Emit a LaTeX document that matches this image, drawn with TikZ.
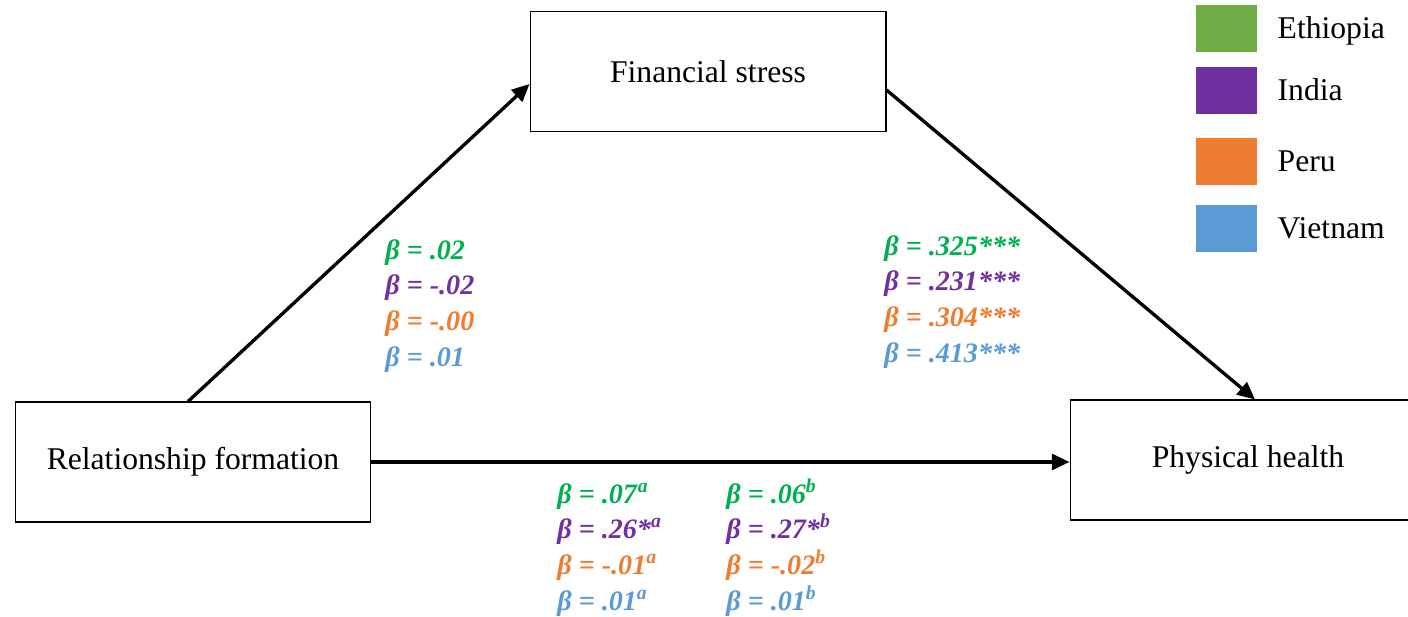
\documentclass[tikz,border=0pt]{standalone}
\usepackage{fontspec}
\setmainfont{Liberation Serif}
\usepackage{xcolor}
\usetikzlibrary{arrows.meta,positioning}
\definecolor{ethgreen}{RGB}{0, 176, 80}
\definecolor{legendgreen}{RGB}{112, 173, 71}
\definecolor{indpurple}{RGB}{112, 48, 160}
\definecolor{perorange}{RGB}{237, 125, 49}
\definecolor{vietblue}{RGB}{91, 155, 213}
\newcommand{\bet}[1]{\textit{\textbf{β = #1}}}
\newcommand{\sig}[1]{\smash{\textsuperscript{\textit{\textbf{#1}}}}}

\begin{document}
\begin{tikzpicture}[x=0.02cm, y=-0.02cm, >={Triangle[length=10pt,width=9pt]},
    varbox/.style={draw, line width=0.6pt, minimum width=7.12cm, minimum height=2.4cm,
        font=\fontsize{18}{22}\selectfont},
    medpath/.style={->, line width=1.9pt},
    coef/.style={anchor=north west, align=left, inner sep=0pt,
        font=\fontsize{16}{20.3}\selectfont},
    swatch/.style={minimum width=1.22cm, minimum height=0.94cm, inner sep=0pt},
    legtext/.style={anchor=base west, inner sep=0pt, font=\fontsize{18}{22}\selectfont}]
    \useasboundingbox (0, 0) rectangle (1408, 617);

    % Variables
    \node[varbox] (fin) at (708, 71.5) {Financial stress};
    \node[varbox] (rel) at (193, 462) {Relationship formation};
    \node[varbox] (phys) at (1248, 460) {Physical health};

    % Paths
    \draw[medpath] ([xshift=-0.1cm]rel.north) -- ([yshift=-0.25cm]fin.west);
    \draw[medpath] ([yshift=-0.37cm]fin.east) -- ([xshift=0.14cm]phys.north);
    \draw[medpath] (rel.east) -- (rel.east -| phys.west);

    % Coefficients, a path
    \node[coef] (apath) at (385, 239) {%
        \textcolor{ethgreen}{\bet{.02}}\\
        \textcolor{indpurple}{\bet{-.02}}\\
        \textcolor{perorange}{\bet{-.00}}\\
        \textcolor{vietblue}{\bet{.01}}};

    % Coefficients, b path
    \node[coef] (bpath) at (884, 235) {%
        \textcolor{ethgreen}{\bet{.325***}}\\
        \textcolor{indpurple}{\bet{.231***}}\\
        \textcolor{perorange}{\bet{.304***}}\\
        \textcolor{vietblue}{\bet{.413***}}};

    % Coefficients, direct paths
    \node[coef] (cpath) at (557, 483) {%
        \textcolor{ethgreen}{\bet{.07}\sig{a}}\\
        \textcolor{indpurple}{\bet{.26*}\sig{a}}\\
        \textcolor{perorange}{\bet{-.01}\sig{a}}\\
        \textcolor{vietblue}{\bet{.01}\sig{a}}};
    \node[coef] (dpath) at (726, 483) {%
        \textcolor{ethgreen}{\bet{.06}\sig{b}}\\
        \textcolor{indpurple}{\bet{.27*}\sig{b}}\\
        \textcolor{perorange}{\bet{-.02}\sig{b}}\\
        \textcolor{vietblue}{\bet{.01}\sig{b}}};

    % Legend
    \node[swatch, fill=legendgreen] (eth) at (1226.5, 28.5) {};
    \node[swatch, fill=indpurple] (ind) at (1226.5, 90.5) {};
    \node[swatch, fill=perorange] (per) at (1226.5, 161.5) {};
    \node[swatch, fill=vietblue] (viet) at (1226.5, 228.5) {};
    \node[legtext] at ([xshift=0.4cm, yshift=-0.2cm]eth.east) {Ethiopia};
    \node[legtext] at ([xshift=0.4cm, yshift=-0.2cm]ind.east) {India};
    \node[legtext] at ([xshift=0.4cm, yshift=-0.2cm]per.east) {Peru};
    \node[legtext] at ([xshift=0.4cm, yshift=-0.2cm]viet.east) {Vietnam};
\end{tikzpicture}
\end{document}
